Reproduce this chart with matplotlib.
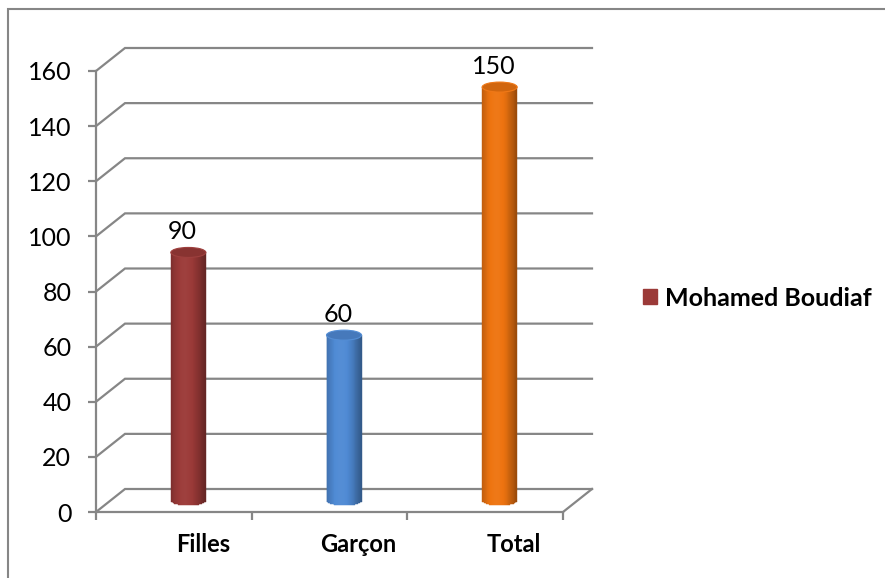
import numpy as np
import matplotlib
matplotlib.use("Agg")
import matplotlib.pyplot as plt
from matplotlib.patches import Ellipse, Patch, Rectangle
from matplotlib.colors import to_rgb

# données
categories = ['Filles', 'Garçon', 'Total']
values = [90, 60, 150]
bar_colors = ['#9B3A38', '#4F8AD4', '#EE7410']
y_ticks = [0, 20, 40, 60, 80, 100, 120, 140, 160]
series_name = 'Mohamed Boudiaf'

plt.rcParams['font.family'] = ['Lato', 'DejaVu Sans']

W, H = 885, 578
GRID = '#868686'


def shade(color, t):
    """couleur d'une bande verticale du cylindre (t de 0 à 1)"""
    c = np.array(to_rgb(color))
    m = 0.72 + 0.33 * np.cos(np.pi * (t - 0.42))
    if m > 1:
        return tuple(c + (1 - c) * (m - 1) * 0.6)
    return tuple(c * m)


fig = plt.figure(figsize=(W / 100, H / 100), dpi=100)
ax = fig.add_axes([96 / W, (H - 512) / H, (563 - 96) / W, (512 - 71) / H])
n_cat = len(categories)
ax.set_xlim(0, n_cat)
ax.set_ylim(0, y_ticks[-1])

# décalage de profondeur (mur du fond), en unités de données
px_x = n_cat / (563 - 96)
px_y = y_ticks[-1] / (512 - 71)
dx, dy = 29 * px_x, 23 * px_y

# quadrillage en perspective
for v in y_ticks:
    ax.plot([0, dx, n_cat + dx], [v, v + dy, v + dy], color=GRID, lw=1.6,
            clip_on=False, zorder=1, solid_joinstyle='miter')
ax.plot([n_cat, n_cat + dx], [0, dy], color=GRID, lw=1.6, clip_on=False, zorder=1)

# axes
for s in ['top', 'right']:
    ax.spines[s].set_visible(False)
for s in ['left', 'bottom']:
    ax.spines[s].set_color(GRID)
    ax.spines[s].set_linewidth(1.6)
ax.set_yticks(y_ticks)
ax.set_yticklabels([str(v) for v in y_ticks], fontsize=18)
ax.set_xticks(range(n_cat + 1))
ax.set_xticklabels([])
ax.tick_params(axis='both', color=GRID, width=1.6, length=5.8)
ax.tick_params(axis='y', pad=12)
ax.patch.set_visible(False)

# cylindres
w = 35 * px_x
eh = 10 * px_y
n = 40
for i, (cat, v, col) in enumerate(zip(categories, values, bar_colors)):
    cx = i + 0.5 + dx / 2
    base = dy / 2
    t = (np.arange(n) + 0.5) / n
    u = 2 * t - 1
    half = eh / 2 * np.sqrt(1 - u ** 2)
    xs = cx - w / 2 + t * w
    bottoms = base - half
    heights = base + v - bottoms
    cols = [shade(col, tt) for tt in t]
    ax.bar(xs, heights, bottom=bottoms, width=w / n, color=cols, edgecolor=cols,
           linewidth=0.3, clip_on=False, zorder=3)
    top_face = tuple(np.array(to_rgb(col)) * 0.88)
    ax.add_patch(Ellipse((cx, base + v), w, eh, facecolor=top_face,
                         edgecolor=shade(col, 0.42), lw=0.8, zorder=4, clip_on=False))
    # étiquette de valeur
    ax.annotate(str(v), (cx, base + v), xytext=(-6, 21), textcoords='offset pixels',
                ha='center', va='center', fontsize=18, annotation_clip=False)
    # étiquette de catégorie
    ax.annotate(cat, (i + 0.5 + dx, 0), xytext=(0, -33), textcoords='offset pixels',
                ha='center', va='center', fontsize=17, fontweight='bold',
                annotation_clip=False)

# légende
ax.legend(handles=[Patch(color=bar_colors[0], label=series_name)],
          loc='center left', bbox_to_anchor=(643 / W, 1 - 298 / H),
          bbox_transform=fig.transFigure, frameon=False,
          handlelength=0.56, handleheight=0.56, handletextpad=0.33,
          borderpad=0, borderaxespad=0, prop=dict(weight='bold', size=18))

# cadre extérieur
fig.patches.append(Rectangle((8 / W, -0.1), 1.2, 1 - 9 / H + 0.1, transform=fig.transFigure,
                             fill=False, edgecolor=GRID, lw=1.5))

fig.savefig('out.png', dpi=100)
